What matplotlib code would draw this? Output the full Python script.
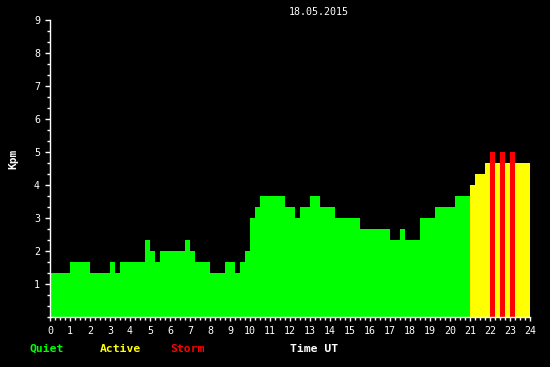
import numpy as np
import matplotlib.pyplot as plt
from matplotlib.ticker import MultipleLocator

# Kpm values, one every 15 minutes (96 values for 18.05.2015)
segments = [
    (4, 4/3), (4, 5/3), (4, 4/3), (1, 5/3), (1, 4/3), (5, 5/3),
    (1, 7/3), (1, 2.0), (1, 5/3), (5, 2.0), (1, 7/3), (1, 2.0),
    (3, 5/3), (3, 4/3), (2, 5/3), (1, 4/3), (1, 5/3), (1, 2.0),
    (1, 3.0), (1, 10/3), (5, 11/3), (2, 10/3), (1, 3.0), (2, 10/3),
    (2, 11/3), (3, 10/3), (5, 3.0), (6, 8/3), (2, 7/3), (1, 8/3),
    (3, 7/3), (3, 3.0), (4, 10/3), (3, 11/3), (1, 4.0), (2, 13/3),
    (1, 14/3), (1, 5.0), (1, 14/3), (1, 5.0), (1, 14/3), (1, 5.0),
    (3, 14/3),
]
kpm = np.concatenate([[v] * n for n, v in segments])
hours = np.arange(len(kpm)) * 0.25
date_label = "18.05.2015"

# colour by activity level
colors = np.where(kpm >= 5, "#ff0000", np.where(kpm >= 4, "#ffff00", "#00ff00"))

fig = plt.figure(figsize=(5.5, 3.67), dpi=100, facecolor="black")
ax = fig.add_axes([50/550, 50/367, 480/550, 297/367], facecolor="black")

ax.bar(hours, kpm, width=0.25, align="edge", color=colors, linewidth=0)

ax.set_xlim(0, 24)
ax.set_ylim(0, 9)
ax.set_xticks(range(0, 25))
ax.xaxis.set_minor_locator(MultipleLocator(0.25))
ax.set_yticks(range(1, 10))
ax.yaxis.set_minor_locator(MultipleLocator(1/3))

for s in ["top", "right"]:
    ax.spines[s].set_visible(False)
for s in ["left", "bottom"]:
    ax.spines[s].set_color("white")
    ax.spines[s].set_linewidth(1)

mono = "DejaVu Sans Mono"
ax.tick_params(axis="y", which="major", colors="white", length=3.6, width=1, pad=3.6)
ax.tick_params(axis="y", which="minor", colors="white", length=2.2, width=1)
ax.tick_params(axis="x", which="major", colors="white", length=3.2, width=1, pad=3)
ax.tick_params(axis="x", which="minor", colors="white", length=1.8, width=1)
for lab in ax.get_xticklabels() + ax.get_yticklabels():
    lab.set_fontfamily(mono)
    lab.set_fontsize(7.2)
    lab.set_color("white")

fig.text(319/550, 1 - 12/367, date_label, color="white", fontsize=7.2,
         family=mono, ha="center", va="center")
fig.text(13/550, 1 - 159/367, "Kpm", color="white", fontsize=8, family=mono,
         fontweight="bold", rotation=90, ha="center", va="center")

legend_y = 1 - 349/367
fig.text(30/550, legend_y, "Quiet", color="#00ff00", fontsize=8.2, family=mono,
         fontweight="bold", va="center")
fig.text(100/550, legend_y, "Active", color="#ffff00", fontsize=8.2, family=mono,
         fontweight="bold", va="center")
fig.text(170/550, legend_y, "Storm", color="#ff0000", fontsize=8.2, family=mono,
         fontweight="bold", va="center")
fig.text(290/550, legend_y, "Time UT", color="white", fontsize=8.2, family=mono,
         fontweight="bold", va="center")

fig.savefig("out.png", dpi=100, facecolor="black")
